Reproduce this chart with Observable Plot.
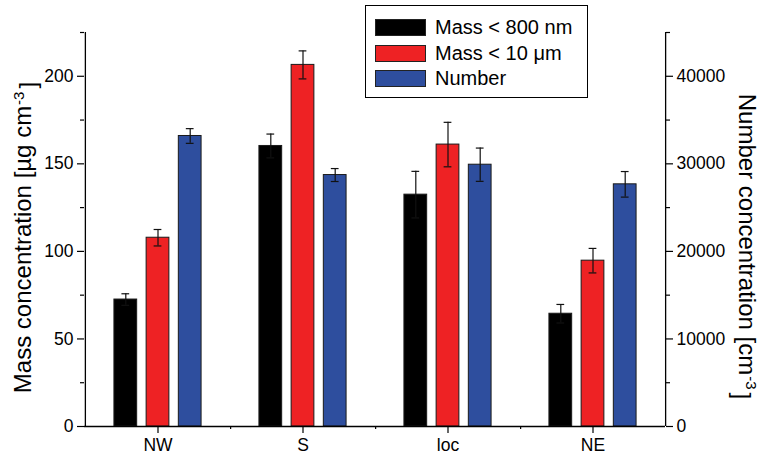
<!DOCTYPE html>
<html>
<head>
<meta charset="utf-8">
<script src="https://cdn.jsdelivr.net/npm/d3@7"></script>
<script src="https://cdn.jsdelivr.net/npm/@observablehq/plot@0.6"></script>
<style>
  html, body { margin: 0; padding: 0; background: #fff; }
  #wrap { position: relative; width: 760px; height: 456px; font-family: "Liberation Sans", Arial, sans-serif; }
  #legend { position: absolute; left: 365px; top: 5px; width: 221px; height: 91px; border: 1px solid #000; background: #fff; }
  .row { position: absolute; left: 9px; height: 17px; display: flex; align-items: center; font-size: 20px; color: #000; white-space: nowrap; }
  .sw { width: 49px; height: 15px; border: 1px solid #222; margin-right: 9px; }
</style>
</head>
<body>
<div id="wrap"></div>
<script>
// ---- data ----
const categories = ["NW", "S", "loc", "NE"];
const seriesNames = ["Mass < 800 nm", "Mass < 10 μm", "Number"];
const mass800 = [72.5, 160.2, 132.4, 64.4];
const mass800Err = [3.3, 6.8, 13.3, 5.3];
const mass10 = [107.8, 206.5, 161.0, 94.7];
const mass10Err = [4.7, 8.0, 12.7, 7.0];
const number = [33180, 28720, 29900, 27660];
const numberErr = [840, 740, 1900, 1460];
const massTicks = [0, 50, 100, 150, 200];
const massMinorTicks = [25, 75, 125, 175, 225];
const numberTicks = [0, 10000, 20000, 30000, 40000];
const numberMinorTicks = [5000, 15000, 25000, 35000, 45000];
const massMax = 225;
const numberMax = 45000;
const colors = ["#000000", "#ee2224", "#2e4e9e"];

// ---- layout ----
const W = 760, H = 456;
const mL = 84, mR = 95, mT = 32, mB = 30;
const band = (W - mL - mR) / categories.length;
const barW = 23;
const inset = (band - barW) / 2;
const offsets = [-32.2, 0, 32.2];
const capW = 8;
const capInset = (band - capW) / 2;
const k = numberMax / massMax; // number -> mass-axis units

const toMassAxis = (n) => n / k;
const rowsBySeries = [
  categories.map((c, i) => ({cat: c, v: mass800[i], lo: mass800[i] - mass800Err[i], hi: mass800[i] + mass800Err[i]})),
  categories.map((c, i) => ({cat: c, v: mass10[i], lo: mass10[i] - mass10Err[i], hi: mass10[i] + mass10Err[i]})),
  categories.map((c, i) => ({cat: c, v: toMassAxis(number[i]), lo: toMassAxis(number[i] - numberErr[i]), hi: toMassAxis(number[i] + numberErr[i])}))
];

const marks = [];
rowsBySeries.forEach((rows, s) => {
  marks.push(Plot.barY(rows, {x: "cat", y: "v", fill: colors[s], stroke: "#1a1a1a", strokeWidth: 1, dx: offsets[s], insetLeft: inset, insetRight: inset}));
});
rowsBySeries.forEach((rows, s) => {
  marks.push(Plot.ruleX(rows, {x: "cat", y1: "lo", y2: "hi", dx: offsets[s], stroke: "#111", strokeWidth: 1.2}));
  marks.push(Plot.tickY(rows, {x: "cat", y: "hi", dx: offsets[s], stroke: "#111", strokeWidth: 1.2, insetLeft: capInset, insetRight: capInset}));
  marks.push(Plot.tickY(rows, {x: "cat", y: "lo", dx: offsets[s], stroke: "#111", strokeWidth: 1.2, insetLeft: capInset, insetRight: capInset}));
});

// axes
marks.push(Plot.axisY({anchor: "left", ticks: massTicks, tickSize: 7, tickPadding: 4, label: null, strokeWidth: 1.2, fontSize: 17.5}));
marks.push(Plot.axisY({anchor: "left", ticks: massMinorTicks, tickSize: 4, tickFormat: () => "", label: null, strokeWidth: 1.2}));
marks.push(Plot.axisY({anchor: "right", ticks: numberTicks.map(toMassAxis), tickFormat: (d) => String(Math.round(d * k)), tickSize: 7, tickPadding: 4, label: null, strokeWidth: 1.2, fontSize: 17.5}));
marks.push(Plot.axisY({anchor: "right", ticks: numberMinorTicks.map(toMassAxis), tickSize: 4, tickFormat: () => "", label: null, strokeWidth: 1.2}));
marks.push(Plot.axisX({ticks: categories, tickSize: 7, tickPadding: 5, label: null, strokeWidth: 1.2, fontSize: 17.5}));
marks.push(Plot.axisX({ticks: categories.slice(0, -1), dx: band / 2, tickSize: 3, tickFormat: () => "", label: null, strokeWidth: 1.2}));
// axis lines
marks.push(Plot.ruleY([0], {stroke: "#000", strokeWidth: 1.3}));
marks.push(Plot.ruleX([categories[0]], {dx: -band / 2, stroke: "#000", strokeWidth: 1.3}));
marks.push(Plot.ruleX([categories[categories.length - 1]], {dx: band / 2, stroke: "#000", strokeWidth: 1.3}));

// axis titles
marks.push(Plot.text(["Mass concentration [µg cm@-3@]"], {frameAnchor: "left", textAnchor: "middle", dx: -61, dy: 8, rotate: -90, fontSize: 24, fill: "#000"}));
marks.push(Plot.text(["Number concentration [cm@-3@]"], {frameAnchor: "right", textAnchor: "middle", dx: 81, dy: 17, rotate: 90, fontSize: 24, fill: "#000"}));

const chart = Plot.plot({
  width: W, height: H,
  marginLeft: mL, marginRight: mR, marginTop: mT, marginBottom: mB,
  x: {type: "band", domain: categories, padding: 0},
  y: {domain: [0, massMax]},
  style: {fontFamily: "'Liberation Sans', Arial, sans-serif", fontSize: "17px", color: "#000", background: "#fff"},
  marks
});

// superscripts in titles
d3.select(chart).selectAll("text").each(function () {
  const t = this.textContent;
  if (t.includes("@")) {
    const parts = t.split("@");
    const el = d3.select(this);
    el.text(null);
    el.append("tspan").text(parts[0]);
    el.append("tspan").attr("dy", "-0.5em").attr("font-size", "15").attr("dx", "1").text(parts[1]);
    el.append("tspan").attr("dy", "0.5em").attr("dx", "3").text(parts[2]);
  }
});

const wrap = document.getElementById("wrap");
wrap.appendChild(chart);

// legend
const legend = document.createElement("div");
legend.id = "legend";
const rowTops = [13, 39, 64];
seriesNames.forEach((name, i) => {
  const row = document.createElement("div");
  row.className = "row";
  row.style.top = rowTops[i] + "px";
  const sw = document.createElement("div");
  sw.className = "sw";
  sw.style.background = colors[i];
  const lab = document.createElement("span");
  lab.textContent = name;
  row.appendChild(sw);
  row.appendChild(lab);
  legend.appendChild(row);
});
wrap.appendChild(legend);
</script>
</body>
</html>
